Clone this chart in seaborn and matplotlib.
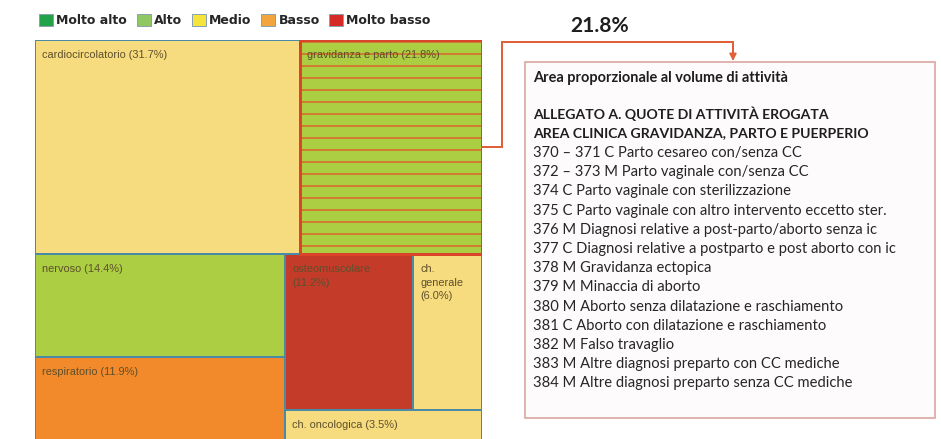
import numpy as np
import matplotlib.pyplot as plt
import seaborn as sns
from matplotlib.patches import Rectangle, Patch

# treemap cells (share of activity, %)
categories = ["cardiocircolatorio", "gravidanza e parto", "nervoso", "respiratorio",
              "osteomuscolare", "ch. generale", "ch. oncologica"]
shares = [31.7, 21.8, 14.4, 11.9, 11.2, 6.0, 3.5]
cell_labels = ["cardiocircolatorio (31.7%)", "gravidanza e parto (21.8%)", "nervoso (14.4%)",
               "respiratorio (11.9%)", "osteomuscolare\n(11.2%)", "ch.\ngenerale\n(6.0%)",
               "ch. oncologica (3.5%)"]
levels = ["Medio", "Alto", "Alto", "Basso", "Molto basso", "Medio", "Medio"]
# how the cells are grouped (rows / columns alternate at each level)
nesting = [[0, 1], [[2, 3], [[4, 5], 6]]]
highlight = 1

legend_levels = ["Molto alto", "Alto", "Medio", "Basso", "Molto basso"]
legend_colors = ["#22a34a", "#8fc862", "#f4e43c", "#f2a53c", "#d42b27"]
cell_colors = {"Molto alto": "#22a34a", "Alto": "#abce43", "Medio": "#f6dc7e",
               "Basso": "#f28a2b", "Molto basso": "#c43b2a"}

callout_value = "21.8%"
note_title = "Area proporzionale al volume di attività"
note_heading = ["ALLEGATO A. QUOTE DI ATTIVITÀ EROGATA",
                "AREA CLINICA GRAVIDANZA, PARTO E PUERPERIO"]
note_items = ["370 – 371 C Parto cesareo con/senza CC",
              "372 – 373 M Parto vaginale con/senza CC",
              "374 C Parto vaginale con sterilizzazione",
              "375 C Parto vaginale con altro intervento eccetto ster.",
              "376 M Diagnosi relative a post-parto/aborto senza ic",
              "377 C Diagnosi relative a postparto e post aborto con ic",
              "378 M Gravidanza ectopica",
              "379 M Minaccia di aborto",
              "380 M Aborto senza dilatazione e raschiamento",
              "381 C Aborto con dilatazione e raschiamento",
              "382 M Falso travaglio",
              "383 M Altre diagnosi preparto con CC mediche",
              "384 M Altre diagnosi preparto senza CC mediche"]


def total(node):
    if isinstance(node, int):
        return shares[node]
    return sum(total(n) for n in node)


def layout(node, x, y, w, h, horizontal, out):
    if isinstance(node, int):
        out[node] = (x, y, w, h)
        return
    s = total(node)
    off = 0.0
    for child in node:
        f = total(child) / s
        if horizontal:
            layout(child, x + off * w, y, w * f, h, not horizontal, out)
        else:
            layout(child, x, y + off * h, w, h * f, not horizontal, out)
        off += f


sns.set_theme(style="white")
plt.rcParams["hatch.linewidth"] = 1.6

W, H = 941, 439
fig = plt.figure(figsize=(W / 72, H / 72), dpi=72)
fig.patch.set_facecolor("white")

# treemap axes: 447 x 402 px, top-left at (35, 40); bottom slightly cropped
ax = fig.add_axes([35 / W, (H - 442) / H, 447 / W, 402 / H])
ax.set_xlim(0, 1)
ax.set_ylim(1, 0)
ax.axis("off")

rects = {}
layout(nesting, 0, 0, 1, 1, False, rects)
for i, name in enumerate(categories):
    x, y, w, h = rects[i]
    if i == highlight:
        ax.add_patch(Rectangle((x, y), w, h, facecolor=cell_colors[levels[i]],
                               edgecolor="#d86a2c", hatch="-", linewidth=0, zorder=1))
    else:
        ax.add_patch(Rectangle((x, y), w, h, facecolor=cell_colors[levels[i]],
                               edgecolor="#4a8aa6", linewidth=2, zorder=2))
    ax.annotate(cell_labels[i], xy=(x, y), xytext=(7, -10), textcoords="offset points",
                ha="left", va="top", fontsize=11, color="#5e4f2c",
                family="Liberation Sans", linespacing=1.45, zorder=5)
x, y, w, h = rects[highlight]
ax.add_patch(Rectangle((x, y), w, h, facecolor="none", edgecolor="#d9442a",
                       linewidth=3, zorder=4))

# legend
handles = [Patch(facecolor=c, edgecolor="#8aa2b0", linewidth=1) for c in legend_colors]
fig.legend(handles, legend_levels, loc="upper left", bbox_to_anchor=(34 / W, 1 - 9 / H),
           ncol=5, frameon=False, handlelength=1.15, handleheight=1.15, handletextpad=0.25,
           columnspacing=0.75, borderaxespad=0,
           prop={"family": "DejaVu Sans", "weight": "bold", "size": 12.5})

# overlay in pixel coordinates for the callout
ov = fig.add_axes([0, 0, 1, 1])
ov.set_xlim(0, W)
ov.set_ylim(H, 0)
ov.axis("off")

line_col = "#e0603a"
ov.plot([482, 502, 502, 733, 733], [147, 147, 42, 42, 58], color=line_col, lw=2,
        solid_joinstyle="miter")
ov.annotate("", xy=(733, 63), xytext=(733, 55),
            arrowprops=dict(arrowstyle="-|>,head_width=0.25,head_length=0.5",
                            color=line_col, lw=1.5))
ov.text(600, 26, callout_value, ha="center", va="center", fontsize=21,
        fontweight="bold", family="Lato", color="#1e1e1e")

ov.add_patch(Rectangle((525, 62), 410, 356, facecolor="#fdfbfb", edgecolor="#d9a39c",
                       linewidth=1.6))

tx = 533
ov.text(tx, 78, note_title, ha="left", va="center", fontsize=14.5, fontweight="bold",
        family="Lato", color="#1e1e1e")
for k, line in enumerate(note_heading):
    ov.text(tx, 114 + 19.2 * k, line, ha="left", va="center", fontsize=14,
            fontweight="bold", family="Lato", color="#1e1e1e")
for k, line in enumerate(note_items):
    ov.text(tx, 153 + 19.2 * k, line, ha="left", va="center", fontsize=14.8,
            family="Lato", color="#262626")

fig.savefig("out.png", dpi=72)
